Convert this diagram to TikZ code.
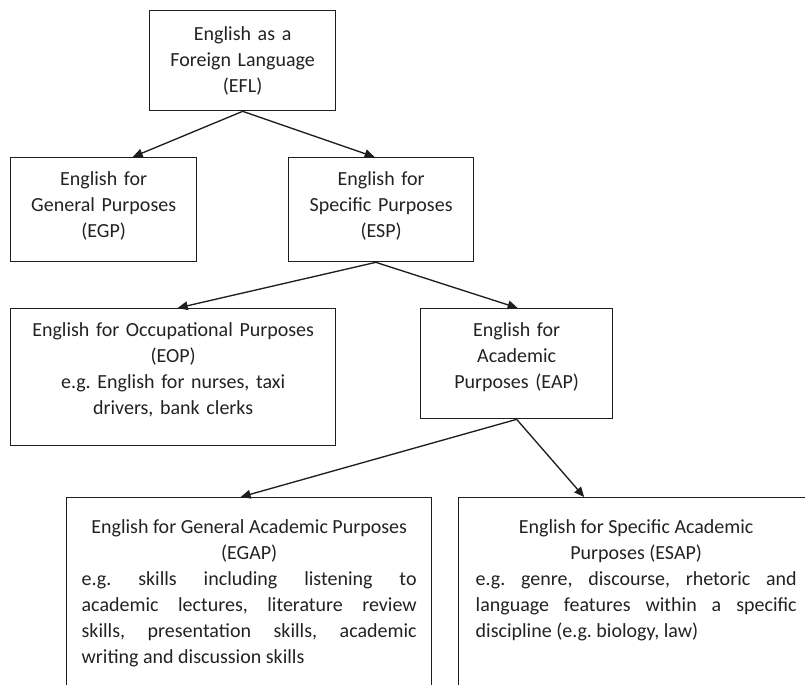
\documentclass[tikz,border=0pt]{standalone}
\usepackage{fontspec}
\setmainfont{Carlito}
\usetikzlibrary{arrows.meta}
\definecolor{inkline}{HTML}{1E1E1E}
\definecolor{inktext}{HTML}{222222}
\begin{document}
\frenchspacing
\begin{tikzpicture}[x=0.75pt,y=-0.75pt,
	box/.style={draw=inkline,line width=1pt,anchor=north west,inner ysep=0pt,inner xsep=4pt,
		align=center,text=inktext,font=\fontsize{15}{19.5}\selectfont},
	widebox/.style={box,align=justify,inner xsep=11.25pt,text height=27pt,text depth=187.5pt},
	link/.style={draw=inkline,line width=1pt,-{Triangle[length=7.5pt,width=6.5pt]}}]
	\useasboundingbox (0,0) rectangle (805,684);
	\clip (0,0) rectangle (805,684);
	\node[box,text width=131.5pt,text height=22.5pt,text depth=52.5pt] (efl) at (149,10)
		{English as a\\Foreign Language\\(EFL)};
	\node[box,text width=131.5pt,text height=21pt,text depth=57pt] (egp) at (10,157)
		{English for\\General Purposes\\(EGP)};
	\node[box,text width=130.75pt,text height=21pt,text depth=57pt] (esp) at (288,157)
		{English for\\Specific Purposes\\(ESP)};
	\node[box,text width=235.75pt,text height=21pt,text depth=81.75pt] (eop) at (10,308)
		{English for Occupational Purposes\\(EOP)\\e.g. English for nurses, taxi\\drivers, bank clerks};
	\node[box,text width=136pt,text height=21pt,text depth=61.5pt] (eap) at (420,308)
		{English for\\Academic\\Purposes (EAP)};
	\node[widebox,text width=251.25pt] (egap) at (66,497)
		{{\centering English for General Academic Purposes\\(EGAP)\par}
		e.g. skills including listening to\linebreak academic lectures, literature review\linebreak
		skills, presentation skills, academic\linebreak writing and discussion skills};
	\node[widebox,inner xsep=12.75pt,text width=240.75pt] (esap) at (458,497)
		{{\centering English for Specific Academic\\Purposes (ESAP)\par}
		e.g. genre, discourse, rhetoric and\linebreak language features within a specific\linebreak
		discipline (e.g. biology, law)};
	\draw[link] (efl.south) -- ([xshift=21.75pt]egp.north);
	\draw[link] (efl.south) -- ([xshift=-4.9pt]esp.north);
	\draw[link] ([xshift=-4pt]esp.south) -- ([xshift=3.4pt]eop.north);
	\draw[link] ([xshift=-4pt]esp.south) -- ([xshift=0.75pt]eap.north);
	\draw[link] (eap.south) -- ([xshift=-6.4pt]egap.north);
	\draw[link] (eap.south) -- ([xshift=-39pt]esap.north);
\end{tikzpicture}
\end{document}
